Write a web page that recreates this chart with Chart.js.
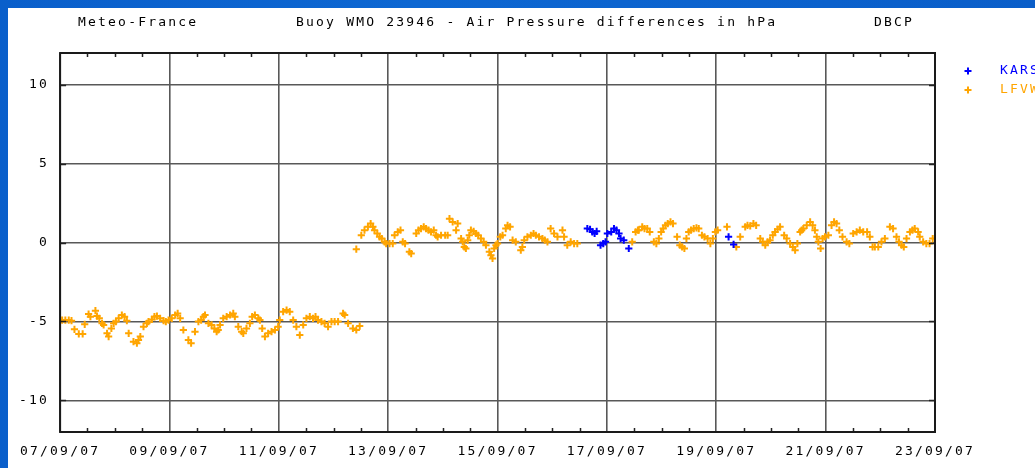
<!DOCTYPE html>
<html>
<head>
<meta charset="utf-8">
<script src="https://cdn.jsdelivr.net/npm/chart.js@4/dist/chart.umd.min.js"></script>
<style>
  html, body { margin: 0; padding: 0; }
  body { width: 1035px; height: 468px; overflow: hidden;
         background: linear-gradient(90deg, #0a5fcb 0%, #0d67d2 40%, #0a5ec9 100%); }
  #frame { position: absolute; left: 8px; top: 8px; width: 1027px; height: 460px; background: #fff; }
  canvas { display: block; }
</style>
</head>
<body>
<div id="frame"><canvas id="c" width="1027" height="460"></canvas></div>
<script>
// Hours since 07/09/07 00:00 UTC and air pressure differences (hPa)
const lfvwHours = [
  0.9, 2.3, 3.8, 5.0, 6.3, 8.2, 9.9, 10.8, 12.5, 13.3, 15.5, 16.2, 17.2, 18.4, 19.1, 20.6, 21.3, 22.5, 23.5, 24.5,
  25.7, 27.1, 28.3, 29.3, 30.1, 32.2, 33.7, 34.4, 35.2, 36.6, 38.1, 38.8, 40.3, 41.4, 42.5, 43.9, 45.4, 46.4, 47.6, 49.0,
  50.5, 51.6, 52.7, 54.1, 56.3, 57.5, 59.2, 60.7, 61.9, 62.9, 63.6, 65.1, 66.5, 67.7, 68.7, 69.4, 70.2, 71.6, 73.1, 74.6,
  76.0, 76.7, 78.2, 79.7, 80.4, 81.8, 83.3, 84.3, 85.5, 87.0, 87.7, 88.7, 89.9, 91.3, 92.8, 94.3, 95.7, 96.4, 97.9, 99.4,
  100.8, 102.3, 103.7, 105.2, 106.7, 108.1, 109.6, 111.0, 112.1, 113.2, 114.7, 116.1, 117.6, 119.1, 120.5, 122.0, 124.2, 124.9, 126.4, 128.5,
  130.0, 131.5,
  130.0, 132.2, 133.6, 135.1, 136.3, 137.3, 138.0, 139.2, 140.2, 141.2, 142.4, 143.1, 144.6, 146.0, 146.8, 148.2, 149.4, 150.4, 151.4, 153.3,
  154.1, 156.3, 157.3, 158.4, 159.6, 160.6, 161.7, 162.8, 164.0, 165.0, 165.7, 167.2, 169.0, 170.1, 170.9, 172.3, 173.8, 174.5, 176.0, 176.7,
  177.4, 178.1, 178.9, 179.6, 180.3, 181.5, 182.5, 183.5, 184.7, 185.9, 186.9, 188.4, 189.1, 189.8, 190.5, 191.3, 192.0, 193.2, 194.2, 195.6,
  196.4, 197.5, 198.6, 200.0, 202.2, 202.9, 203.7, 205.1, 206.6, 207.8, 208.8, 210.2, 211.7, 212.7, 213.9, 215.3, 216.8, 218.3, 220.5, 221.2,
  222.6, 224.1, 225.6, 227.0,
  251.1, 252.6, 253.6, 254.0, 255.5, 256.5, 257.7, 258.8, 260.6, 261.7, 262.8, 263.8, 264.7, 265.7, 266.7, 267.9, 269.0, 270.8, 272.0, 273.0,
  274.0, 274.9, 275.9, 276.9, 278.1, 279.3, 280.3, 281.7, 282.8, 284.2, 285.4, 286.5, 287.6, 288.6, 292.7, 296.8, 298.5, 300.7, 301.7, 302.9,
  304.3, 305.5, 307.3, 308.4, 309.5, 310.5, 311.6, 312.8, 313.8, 314.9, 316.0, 317.8, 318.9, 320.4, 321.6, 322.6, 323.6, 324.8, 325.5, 326.2,
  327.7, 329.2, 330.3, 331.3, 332.1, 332.8, 333.8, 334.7, 335.7, 337.2, 338.6, 339.7, 340.8, 342.0, 343.4, 345.2, 346.4, 348.1, 349.6, 351.0,
  352.5, 354.2, 355.4, 356.6, 357.6, 359.1, 360.5, 362.0, 364.2, 365.6, 367.1, 368.2, 369.3, 370.3, 371.5, 373.0, 374.1, 375.1, 376.6, 377.3,
  378.8, 380.2, 381.6, 383.0
];
const lfvwValues = [
  -4.91, -4.91, -4.91, -4.95, -5.50, -5.79, -5.79, -5.18, -4.53, -4.70, -4.32, -4.66, -4.80, -5.12, -5.22, -5.75, -5.96, -5.44, -5.12, -5.01,
  -4.80, -4.59, -4.70, -4.95, -5.75, -6.28, -6.38, -6.17, -5.96, -5.33, -5.12, -5.01, -4.87, -4.70, -4.66, -4.80, -4.95, -5.01, -4.91, -4.80,
  -4.59, -4.49, -4.80, -5.54, -6.17, -6.38, -5.65, -5.01, -4.91, -4.70, -4.59, -5.12, -5.22, -5.44, -5.65, -5.54, -5.22, -4.80, -4.70, -4.59,
  -4.49, -4.70, -5.33, -5.65, -5.75, -5.44, -5.12, -4.70, -4.59, -4.80, -4.91, -5.44, -5.96, -5.75, -5.65, -5.54, -5.33, -4.91, -4.38, -4.28,
  -4.38, -4.91, -5.33, -5.86, -5.22, -4.80, -4.70, -4.80, -4.70, -4.91, -5.01, -5.12, -5.33, -5.01, -5.01, -5.01, -4.49, -4.59, -5.12, -5.44,
  -5.54, -5.29,
  -0.42, 0.46, 0.78, 0.99, 1.20, 0.99, 0.78, 0.57, 0.36, 0.25, 0.04, -0.07, -0.07, -0.07, 0.46, 0.67, 0.78, 0.04, -0.07, -0.59,
  -0.70, 0.57, 0.78, 0.88, 0.99, 0.88, 0.78, 0.67, 0.78, 0.46, 0.36, 0.46, 0.46, 0.46, 1.51, 1.30, 0.78, 1.20, 0.25, 0.04,
  -0.28, -0.38, 0.15, 0.46, 0.78, 0.71, 0.57, 0.46, 0.25, 0.04, -0.17, -0.59, -0.80, -1.01, -0.38, -0.17, -0.07, 0.36, 0.46, 0.88,
  1.09, 0.99, 0.15, 0.04, -0.49, -0.28, 0.15, 0.36, 0.46, 0.57, 0.46, 0.36, 0.25, 0.15, 0.04, 0.88, 0.57, 0.36, 0.78, 0.36,
  -0.17, 0.04, -0.07, -0.07,
  0.04, 0.67, 0.78, 0.78, 0.99, 0.88, 0.88, 0.67, 0.04, -0.07, 0.25, 0.67, 0.88, 1.09, 1.20, 1.30, 1.20, 0.36, -0.17, -0.28,
  -0.38, 0.25, 0.67, 0.78, 0.88, 0.92, 0.88, 0.46, 0.36, 0.25, -0.07, 0.25, 0.67, 0.78, 0.99, -0.28, 0.36, 0.99, 1.09, 1.05,
  1.20, 1.09, 0.25, 0.04, -0.17, 0.04, 0.15, 0.46, 0.67, 0.84, 0.99, 0.46, 0.25, -0.07, -0.28, -0.49, -0.07, 0.67, 0.78, 0.88,
  1.09, 1.30, 1.09, 0.78, 0.36, 0.04, -0.38, 0.25, 0.36, 0.46, 1.09, 1.30, 1.20, 0.78, 0.36, 0.04, -0.07, 0.57, 0.67, 0.78,
  0.67, 0.67, 0.36, -0.28, -0.28, -0.28, 0.04, 0.25, 0.99, 0.88, 0.36, 0.04, -0.17, -0.28, 0.25, 0.67, 0.78, 0.88, 0.67, 0.36,
  0.04, -0.07, -0.07, 0.25
];
const karsHours = [
  231.4, 232.6, 233.6, 234.6, 235.5, 237.2, 238.4, 239.4, 240.2, 241.9, 243.1, 244.2, 245.3, 246.0, 247.4, 249.6,
  293.4, 295.6
];
const karsValues = [
  0.88, 0.84, 0.67, 0.57, 0.71, -0.17, -0.07, 0.04, 0.57, 0.67, 0.88, 0.78, 0.57, 0.25, 0.15, -0.38,
  0.36, -0.12
];

const xTickHours = [0, 48, 96, 144, 192, 240, 288, 336, 384];
const xTickLabels = ['07/09/07', '09/09/07', '11/09/07', '13/09/07', '15/09/07', '17/09/07', '19/09/07', '21/09/07', '23/09/07'];
const xMinorHours = [12, 24, 36, 60, 72, 84, 108, 120, 132, 156, 168, 180, 204, 216, 228, 252, 264, 276, 300, 312, 324, 348, 360, 372];
const yTickValues = [-10, -5, 0, 5, 10];

const seriesNames = ['KARS', 'LFVW'];
const seriesColors = ['#0000ff', '#ffa500'];

const headerLeft = 'Meteo-France';
const headerMain = 'Buoy WMO 23946 - Air Pressure differences in hPa';
const headerRight = 'DBCP';

const FONT = '"DejaVu Sans Mono", "Liberation Mono", monospace';
const FONT_SIZE = 13;
const SPACING = '2.2px';

function toPoints(xs, ys) { return xs.map((x, i) => ({ x: x, y: ys[i] })); }

const framePlugin = {
  id: 'frameDecor',
  beforeLayout(chart) { chart.ctx.letterSpacing = SPACING; },
  beforeDraw(chart) { chart.ctx.letterSpacing = SPACING; },
  afterDraw(chart) {
    const ctx = chart.ctx;
    const a = chart.chartArea;
    const xs = chart.scales.x, ys = chart.scales.y;
    ctx.save();
    ctx.letterSpacing = SPACING;
    // minor time ticks, inside the frame, top and bottom
    ctx.strokeStyle = '#222';
    ctx.lineWidth = 1.5;
    ctx.beginPath();
    xMinorHours.forEach(h => {
      const px = Math.round(xs.getPixelForValue(h)) + 0.5;
      ctx.moveTo(px, a.top); ctx.lineTo(px, a.top + 4);
      ctx.moveTo(px, a.bottom); ctx.lineTo(px, a.bottom - 4);
    });
    // short inward ticks on the value lines
    yTickValues.forEach(v => {
      const py = Math.round(ys.getPixelForValue(v)) + 0.5;
      ctx.moveTo(a.left, py); ctx.lineTo(a.left + 6, py);
      ctx.moveTo(a.right, py); ctx.lineTo(a.right - 6, py);
    });
    ctx.stroke();
    // plot frame
    ctx.strokeStyle = '#1a1a1a';
    ctx.lineWidth = 2;
    ctx.strokeRect(a.left, a.top, a.right - a.left, a.bottom - a.top);

    // header line
    ctx.fillStyle = '#000';
    ctx.font = FONT_SIZE + 'px ' + FONT;
    ctx.textBaseline = 'middle';
    ctx.textAlign = 'left';
    ctx.fillText(headerLeft, 70, 15);
    ctx.fillText(headerMain, 288, 15);
    ctx.fillText(headerRight, 866, 15);

    // legend
    chart.data.datasets.forEach((ds, i) => {
      const y = 63 + i * 19;
      ctx.strokeStyle = ds.borderColor;
      ctx.lineWidth = 2;
      ctx.beginPath();
      ctx.moveTo(956.5, y); ctx.lineTo(963.5, y);
      ctx.moveTo(960, y - 3.5); ctx.lineTo(960, y + 3.5);
      ctx.stroke();
      ctx.fillStyle = ds.borderColor;
      ctx.fillText(ds.label, 992, y);
    });
    ctx.restore();
  }
};

new Chart(document.getElementById('c'), {
  type: 'scatter',
  data: {
    datasets: [
      { label: seriesNames[0], data: toPoints(karsHours, karsValues),
        borderColor: seriesColors[0], backgroundColor: seriesColors[0],
        pointStyle: 'cross', pointRadius: 3.6, borderWidth: 2, pointHoverRadius: 3.6 },
      { label: seriesNames[1], data: toPoints(lfvwHours, lfvwValues),
        borderColor: seriesColors[1], backgroundColor: seriesColors[1],
        pointStyle: 'cross', pointRadius: 3.6, borderWidth: 2, pointHoverRadius: 3.6 }
    ]
  },
  options: {
    responsive: false,
    animation: false,
    devicePixelRatio: 1,
    events: [],
    layout: { padding: { left: 0, top: 45, right: 100, bottom: 0 } },
    plugins: { legend: { display: false }, title: { display: false }, tooltip: { enabled: false } },
    scales: {
      x: {
        type: 'linear', min: 0, max: 384,
        afterBuildTicks(scale) { scale.ticks = xTickHours.map(v => ({ value: v })); },
        afterFit(scale) { scale.height = 36; },
        grid: { color: '#585858', lineWidth: 1.6, drawTicks: false },
        border: { display: false },
        ticks: {
          padding: 12, color: '#000', maxRotation: 0, autoSkip: false,
          font: { family: FONT, size: FONT_SIZE },
          callback(value) { const i = xTickHours.indexOf(value); return i >= 0 ? xTickLabels[i] : ''; }
        }
      },
      y: {
        type: 'linear', min: -12, max: 12,
        afterBuildTicks(scale) { scale.ticks = yTickValues.map(v => ({ value: v })); },
        afterFit(scale) { scale.width = 50; },
        grid: { color: '#585858', lineWidth: 1.6, drawTicks: false },
        border: { display: false },
        ticks: { padding: 11, color: '#000', font: { family: FONT, size: FONT_SIZE } }
      }
    }
  },
  plugins: [framePlugin]
});
</script>
</body>
</html>
